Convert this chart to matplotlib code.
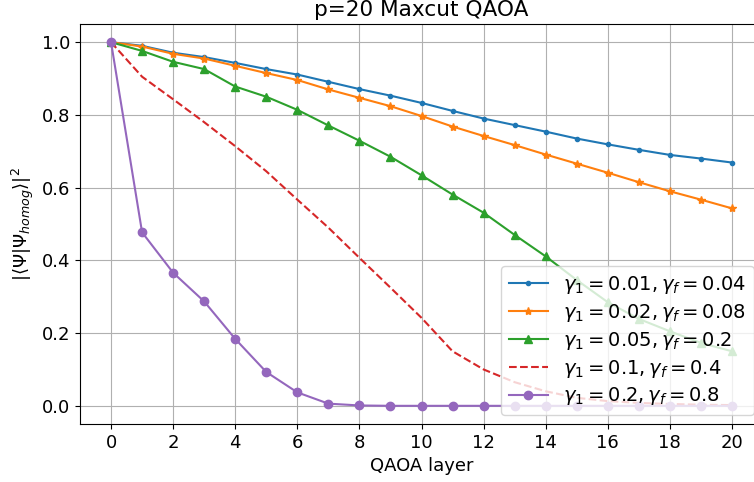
import numpy as np
import matplotlib
matplotlib.use("Agg")
import matplotlib.pyplot as plt

plt.rcParams['font.size'] = 13

# QAOA layers
layers = np.arange(0, 21)

# overlap with homogeneous state
fid_001 = [1.0, 0.990, 0.971, 0.959, 0.943, 0.926, 0.911, 0.891, 0.871, 0.853, 0.833,
           0.811, 0.790, 0.772, 0.754, 0.735, 0.719, 0.704, 0.690, 0.680, 0.669]
fid_002 = [1.0, 0.988, 0.968, 0.955, 0.935, 0.915, 0.896, 0.870, 0.847, 0.824, 0.797,
           0.768, 0.742, 0.717, 0.691, 0.666, 0.641, 0.615, 0.590, 0.567, 0.543]
fid_005 = [1.0, 0.976, 0.946, 0.926, 0.878, 0.850, 0.814, 0.771, 0.729, 0.685, 0.634,
           0.581, 0.531, 0.470, 0.411, 0.346, 0.285, 0.239, 0.205, 0.173, 0.150]
fid_01 = [1.0, 0.905, 0.843, 0.780, 0.714, 0.645, 0.567, 0.490, 0.407, 0.325, 0.242,
          0.150, 0.100, 0.065, 0.040, 0.022, 0.013, 0.008, 0.005, 0.003, 0.002]
fid_02 = [1.0, 0.477, 0.366, 0.287, 0.184, 0.093, 0.037, 0.006, 0.001, 0.0, 0.0,
          0.0, 0.0, 0.0, 0.0, 0.0, 0.0, 0.0, 0.0, 0.0, 0.0]

labels = [r'$\gamma_1=0.01, \gamma_f=0.04$',
          r'$\gamma_1=0.02, \gamma_f=0.08$',
          r'$\gamma_1=0.05, \gamma_f=0.2$',
          r'$\gamma_1=0.1, \gamma_f=0.4$',
          r'$\gamma_1=0.2, \gamma_f=0.8$']

fig = plt.figure(figsize=(7.54, 4.82), dpi=100)
ax = fig.add_axes([80 / 754, 58 / 482, 683 / 754, 400 / 482])

ax.plot(layers, fid_001, '.-', label=labels[0])
ax.plot(layers, fid_002, '*-', label=labels[1])
ax.plot(layers, fid_005, '^-', label=labels[2])
ax.plot(layers, fid_01, '--', label=labels[3])
ax.plot(layers, fid_02, 'o-', label=labels[4])

ax.set_xticks(np.arange(0, 21, 2))
ax.set_xlabel('QAOA layer')
ax.set_ylabel(r'$|\langle\Psi|\Psi_{homog}\rangle|^2$')
ax.set_title('p=20 Maxcut QAOA')
ax.grid(True)
ax.legend(loc='lower right', fontsize=14, borderaxespad=0.45, labelspacing=0.3)

fig.savefig('out.png', dpi=100)
